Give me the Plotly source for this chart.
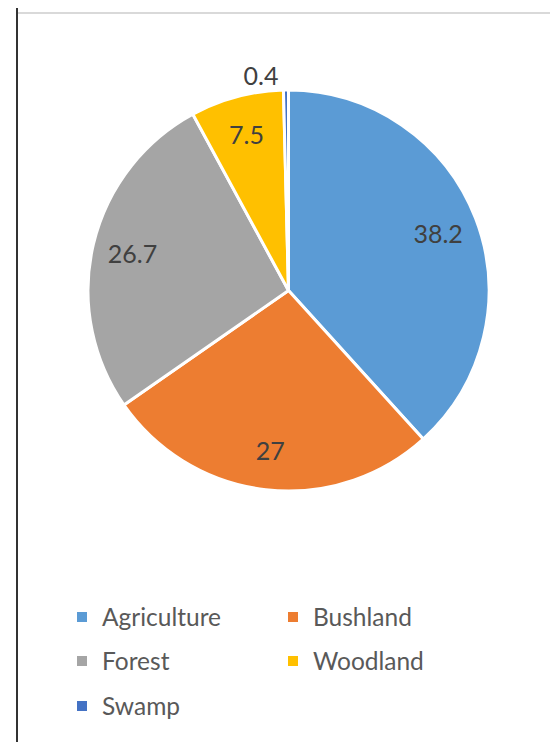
import plotly.graph_objects as go

categories = ["Agriculture", "Bushland", "Forest", "Woodland", "Swamp"]
values = [38.2, 27, 26.7, 7.5, 0.4]
colors = ["#5B9BD5", "#ED7D31", "#A5A5A5", "#FFC000", "#4472C4"]
legend_rows = [["Agriculture", "Bushland"], ["Forest", "Woodland"], ["Swamp"]]

W, H = 558, 742
cx, cy, r = 280.5, 282.5, 200.5
FONT = "Lato"

dom = dict(x=[(cx - r) / W, (cx + r) / W], y=[1 - (cy + r) / H, 1 - (cy - r) / H])
tpos = ["inside", "inside", "inside", "inside", "outside"]

fig = go.Figure()
# filled pie (labels hidden, but same text layout so both pies size identically)
fig.add_trace(go.Pie(
    labels=categories, values=values, sort=False, direction="clockwise", rotation=0,
    marker=dict(colors=colors, line=dict(color="white", width=3)),
    textinfo="value", textposition=tpos, insidetextorientation="horizontal",
    textfont=dict(family=FONT, size=25, color="rgba(0,0,0,0)"),
    domain=dom, showlegend=False, automargin=False,
))
# transparent ring used only to place the data labels near the rim
fig.add_trace(go.Pie(
    labels=categories, values=values, sort=False, direction="clockwise", rotation=0,
    hole=0.6,
    marker=dict(colors=["rgba(0,0,0,0)"] * len(values), line=dict(width=0)),
    textinfo="value", textposition=tpos, insidetextorientation="horizontal",
    textfont=dict(family=FONT, size=25, color="#404040"),
    domain=dom, showlegend=False, automargin=False, hoverinfo="skip",
))

# legend entries, one legend per row
lg_names = ["legend", "legend2", "legend3"]
row_y = [609, 653, 698]
for ri, row in enumerate(legend_rows):
    for name in row:
        i = categories.index(name)
        fig.add_trace(go.Scatter(
            x=[None], y=[None], mode="markers", name=name,
            marker=dict(symbol="square", size=10, color=colors[i]),
            legend=lg_names[ri], showlegend=True,
        ))

leg_common = dict(orientation="h", xanchor="left", yanchor="middle",
                  entrywidth=166, entrywidthmode="pixels",
                  font=dict(family=FONT, size=24.5, color="#595959"),
                  bgcolor="rgba(0,0,0,0)", itemclick=False)
layout_legends = {}
for ri, ln in enumerate(lg_names):
    layout_legends[ln] = dict(leg_common, x=54 / W, y=1 - row_y[ri] / H)

fig.update_layout(
    width=W, height=H, margin=dict(l=0, r=0, t=0, b=0),
    paper_bgcolor="white", plot_bgcolor="white",
    xaxis=dict(visible=False), yaxis=dict(visible=False),
    shapes=[
        dict(type="line", xref="paper", yref="paper", x0=9 / W, x1=9 / W, y0=0, y1=1,
             line=dict(color="#333333", width=2)),
        dict(type="line", xref="paper", yref="paper", x0=10 / W, x1=1, y0=1 - 5 / H, y1=1 - 5 / H,
             line=dict(color="#D9D9D9", width=2)),
    ],
    **layout_legends,
)

fig.write_html("out.html")
